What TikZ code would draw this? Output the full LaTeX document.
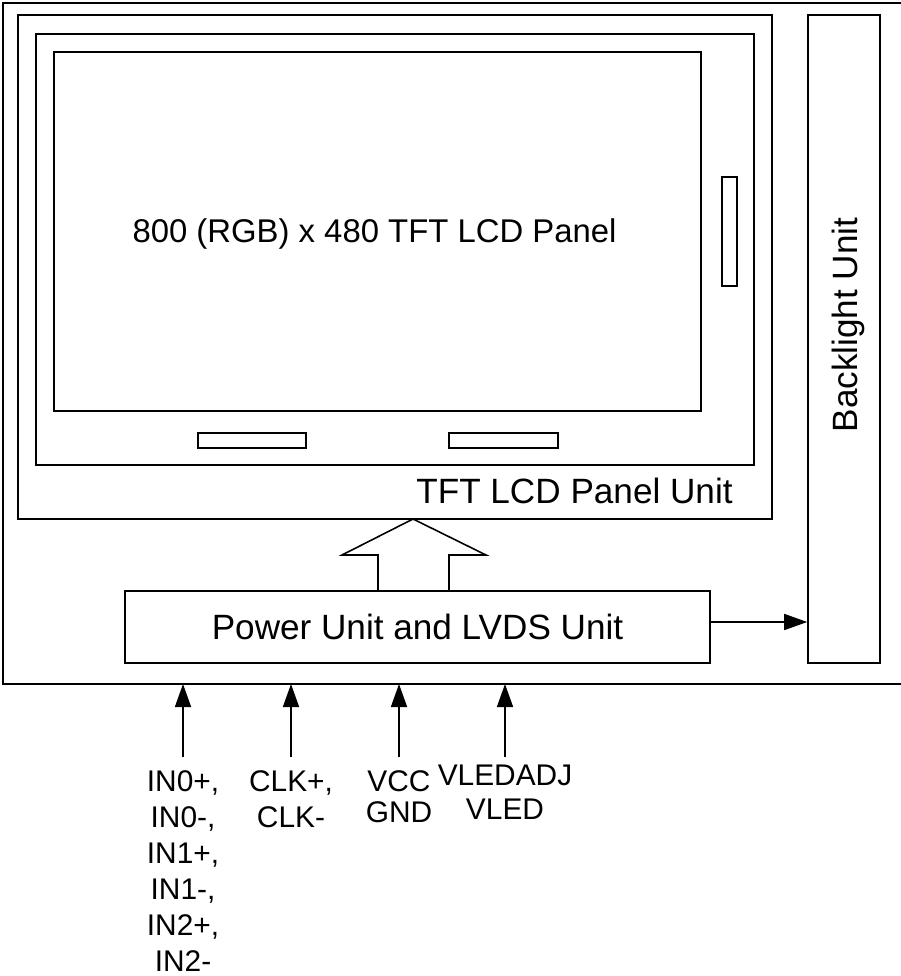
\documentclass[tikz,border=0pt]{standalone}
\usepackage{fontspec}
\setmainfont{Liberation Sans}
\usetikzlibrary{
  arrows.meta,  % Triangle arrow tips
  calc          % coordinate shifts
}
\tikzset{
  frame line/.style={
    draw=black,
    line width=0.9pt
  },
  unit box/.style={
    rectangle,
    draw=black,
    line width=0.9pt,
    inner sep=0pt
  },
  sig/.style={
    -{Triangle[length=0.46cm, width=0.32cm]},
    line width=0.9pt
  },
  big text/.style={
    font=\fontsize{20}{24}\selectfont,
    inner sep=0pt
  },
  pin label/.style={
    align=center,
    anchor=north,
    inner xsep=0pt,
    inner ysep=0.26cm,
    font=\fontsize{17}{20.5}\selectfont
  }
}

\begin{document}
\begin{tikzpicture}[x=0.02cm, y=-0.02cm]
    \useasboundingbox (0,0) rectangle (901,976);

    % 1. outer module frame (right edge runs off the page)
    \draw[frame line, line width=1.1pt] (3,3) rectangle (906,684);
    \coordinate (obot) at (0,684);

    % 2. panel unit with its nested frames
    \begin{scope}
      \draw[frame line] (18,15) rectangle (772,519);   % panel unit
      \draw[frame line] (36,34) rectangle (754,465);   % bezel
      \draw[frame line] (54,52) rectangle (701,411);   % active area

      % driver ICs on the glass
      \draw[frame line] (722,177) rectangle (737,286);
      \draw[frame line] (198,433) rectangle (306,448);
      \draw[frame line] (449,433) rectangle (558,448);

      \node[font=\fontsize{18.7}{22}\selectfont, inner sep=0pt, anchor=base]
        (panel) at (374.5,243) {800 (RGB) x 480 TFT LCD Panel};
      \node[big text, anchor=base east] (unit) at (733,503) {TFT LCD Panel Unit};
    \end{scope}

    % 3. power / LVDS unit and backlight
    \node[unit box, big text, minimum width=11.7cm, minimum height=1.44cm]
      (pwr) at (417.5,627) {Power Unit and LVDS Unit};
    \node[unit box, minimum width=1.44cm, minimum height=12.96cm] (bl) at (844,339) {};
    \node[big text, rotate=90, anchor=base] (bltext) at (857,325) {Backlight Unit};

    % hollow arrow: power unit -> panel unit
    \draw[frame line] (378,591) -- (378,555) -- (342,555) -- (413,519)
      -- (486,555) -- (449,555) -- (449,591);

    % power unit -> backlight
    \draw[sig] ([yshift=0.1cm]pwr.east) -- ([yshift=0.1cm]pwr.east -| bl.west);

    % 4. interface pins
    \node[pin label] (lvds) at (183,757) {IN0+,\\IN0-,\\IN1+,\\IN1-,\\IN2+,\\IN2-};
    \node[pin label, font=\fontsize{17}{20.5}\selectfont] (clk) at (291,757) {CLK+,\\CLK-};
    \node[pin label, font=\fontsize{17}{17.6}\selectfont] (vcc) at (399,757) {VCC\\GND};
    \node[pin label, inner ysep=0.16cm, font=\fontsize{17}{19.3}\selectfont]
      (vled) at (505,757) {VLEDADJ\\VLED};

    \foreach \pin in {lvds, clk, vcc, vled}
      \draw[sig] (\pin.north) -- (\pin.north |- obot);

\end{tikzpicture}
\end{document}
